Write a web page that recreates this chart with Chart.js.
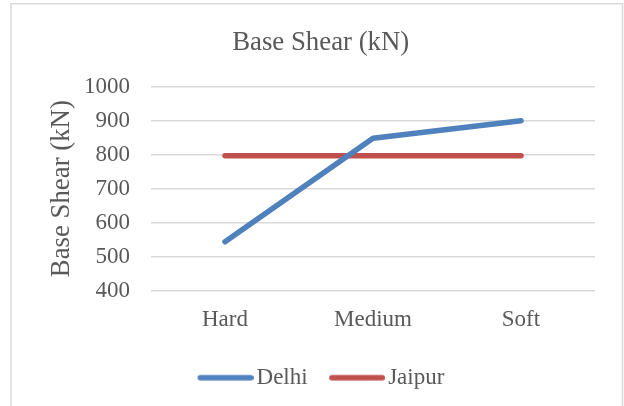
<!DOCTYPE html>
<html>
<head>
<meta charset="utf-8">
<title>Base Shear (kN)</title>
<script src="https://cdn.jsdelivr.net/npm/chart.js@4/dist/chart.umd.min.js"></script>
<style>
  html, body { margin: 0; padding: 0; background: #ffffff; }
  canvas { display: block; }
</style>
</head>
<body>
<canvas id="chart" width="624" height="406"></canvas>
<script>
// Soil categories along the horizontal axis
const categories = ['Hard', 'Medium', 'Soft'];

// Base shear values (kN) for each city
const delhi = [544, 848, 900];
const jaipur = [797, 797, 797];

// Vertical axis range and step
const yMin = 400;
const yMax = 1000;
const yStep = 100;

const SERIF = '"Liberation Serif", "Times New Roman", serif';
const TEXT = '#595959';
const GRID = '#d9d9d9';
const BLUE = '#4f81bd';
const RED = '#c0504d';

// Legend marker: a short thick line with a transparent margin so the
// label sits close to it
function legendMark(color) {
  const c = document.createElement('canvas');
  c.width = 65;
  c.height = 10;
  const g = c.getContext('2d');
  g.strokeStyle = color;
  g.lineWidth = 5.5;
  g.lineCap = 'round';
  g.beginPath();
  g.moveTo(9 + 2.75, 5);
  g.lineTo(65 - 2.75, 5);
  g.stroke();
  return c;
}
const marks = [legendMark(BLUE), legendMark(RED)];

// White page with a thin grey outline around the chart
const framePlugin = {
  id: 'frame',
  beforeDraw(chart) {
    const ctx = chart.ctx;
    ctx.save();
    ctx.fillStyle = '#ffffff';
    ctx.fillRect(0, 0, chart.width, chart.height);
    ctx.strokeStyle = GRID;
    ctx.lineWidth = 1.5;
    ctx.strokeRect(11, 3.75, 611.5, chart.height + 20);
    ctx.restore();
  }
};

new Chart(document.getElementById('chart'), {
  type: 'line',
  data: {
    labels: categories,
    datasets: [
      {
        label: 'Delhi',
        data: delhi,
        borderColor: BLUE,
        backgroundColor: BLUE,
        borderWidth: 5.5,
        borderCapStyle: 'round',
        borderJoinStyle: 'round',
        pointRadius: 0,
        pointHoverRadius: 0,
        tension: 0
      },
      {
        label: 'Jaipur',
        data: jaipur,
        borderColor: RED,
        backgroundColor: RED,
        borderWidth: 5.5,
        borderCapStyle: 'round',
        borderJoinStyle: 'round',
        pointRadius: 0,
        pointHoverRadius: 0,
        tension: 0
      }
    ]
  },
  options: {
    responsive: false,
    animation: false,
    devicePixelRatio: 1,
    layout: { padding: { left: 17.4, right: 0, top: 0, bottom: 6.8 } },
    plugins: {
      tooltip: { enabled: false },
      title: {
        display: true,
        text: 'Base Shear (kN)',
        color: TEXT,
        font: { family: SERIF, size: 26.8, weight: 'normal' },
        padding: { top: 26.5, bottom: 28 }
      },
      legend: {
        display: true,
        position: 'bottom',
        labels: {
          color: TEXT,
          font: { family: SERIF, size: 23 },
          usePointStyle: true,
          pointStyleWidth: 48,
          padding: 21,
          generateLabels(chart) {
            const items = Chart.defaults.plugins.legend.labels.generateLabels(chart);
            items.forEach(it => { it.pointStyle = marks[it.datasetIndex]; });
            return items;
          }
        }
      }
    },
    scales: {
      x: {
        type: 'category',
        offset: true,
        grid: { display: false, drawTicks: false },
        border: { display: false },
        ticks: {
          color: TEXT,
          font: { family: SERIF, size: 23 },
          padding: 15.5,
          maxRotation: 0
        },
        afterFit(scale) { scale.height = 54.5; }
      },
      y: {
        type: 'linear',
        min: yMin,
        max: yMax,
        grid: { color: GRID, lineWidth: 1.5, drawTicks: false },
        border: { display: false },
        ticks: {
          stepSize: yStep,
          color: TEXT,
          font: { family: SERIF, size: 23 },
          padding: 21,
          callback: (value) => String(value)
        },
        title: {
          display: true,
          text: 'Base Shear (kN)',
          color: TEXT,
          font: { family: SERIF, size: 26.8 },
          padding: { top: 28.2, bottom: 0 }
        },
        afterFit(scale) { scale.width = 133.6; }
      },
      y2: {
        type: 'linear',
        position: 'right',
        display: true,
        grid: { display: false, drawTicks: false },
        border: { display: false },
        ticks: { display: false },
        afterFit(scale) { scale.width = 29; }
      }
    }
  },
  plugins: [framePlugin]
});
</script>
</body>
</html>
